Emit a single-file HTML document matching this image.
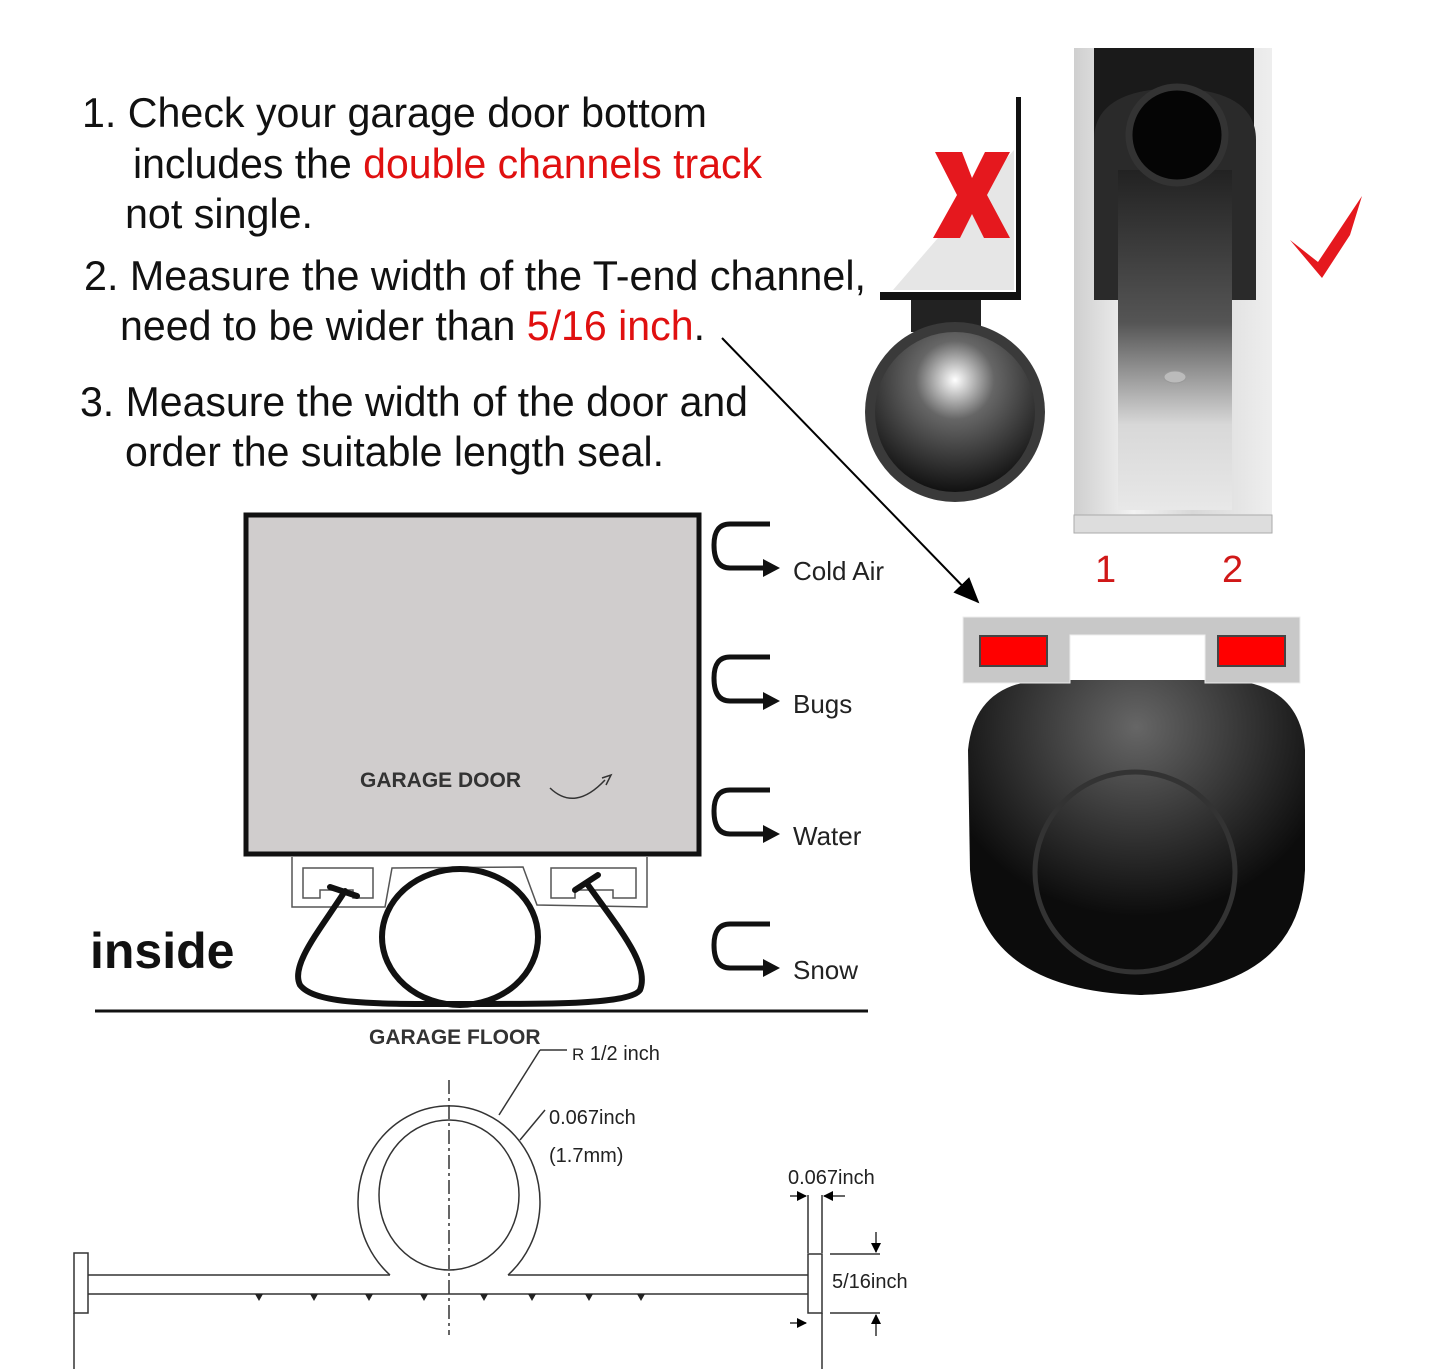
<!DOCTYPE html>
<html><head><style>
html,body{margin:0;padding:0;background:#fff;}
svg{display:block;}
text{font-family:"Liberation Sans",sans-serif;}
</style></head><body>
<svg width="1440" height="1369" viewBox="0 0 1440 1369" xmlns="http://www.w3.org/2000/svg">
<defs>
<linearGradient id="alu" x1="0" x2="1">
<stop offset="0" stop-color="#cfcfcf"/><stop offset="0.3" stop-color="#f2f2f2"/><stop offset="0.6" stop-color="#d8d8d8"/><stop offset="1" stop-color="#eee"/>
</linearGradient>
<linearGradient id="chv" x1="0" y1="0" x2="0" y2="1">
<stop offset="0" stop-color="#222"/><stop offset="0.45" stop-color="#555"/><stop offset="0.75" stop-color="#d8d8d8"/><stop offset="1" stop-color="#e8e8e8"/>
</linearGradient>
<radialGradient id="tube" cx="0.5" cy="0.3" r="0.7">
<stop offset="0" stop-color="#fff"/><stop offset="0.35" stop-color="#666"/><stop offset="1" stop-color="#111"/>
</radialGradient>
<radialGradient id="bulb" cx="0.5" cy="0.15" r="0.6">
<stop offset="0" stop-color="#666"/><stop offset="1" stop-color="#0c0c0c"/>
</radialGradient>
<marker id="ah" markerWidth="10" markerHeight="10" refX="9" refY="5" orient="auto" markerUnits="userSpaceOnUse">
<path d="M0,0 L10,5 L0,10 z" fill="#000"/></marker>
<marker id="ah2" markerWidth="26" markerHeight="22" refX="24" refY="11" orient="auto" markerUnits="userSpaceOnUse">
<path d="M0,0 L26,11 L0,22 z" fill="#000"/></marker>
</defs>

<g font-size="42" fill="#111">
<text x="82" y="127" textLength="625" lengthAdjust="spacingAndGlyphs">1.  Check your garage door bottom</text>
<text x="133" y="178" textLength="629" lengthAdjust="spacingAndGlyphs">includes the <tspan fill="#e01010">double channels track</tspan></text>
<text x="125" y="228" textLength="188" lengthAdjust="spacingAndGlyphs">not single.</text>
<text x="84" y="290" textLength="782" lengthAdjust="spacingAndGlyphs">2. Measure the width of the  T-end channel,</text>
<text x="120" y="340" textLength="585" lengthAdjust="spacingAndGlyphs">need to be wider than <tspan fill="#e01010">5/16 inch</tspan>.</text>
<text x="80" y="416" textLength="668" lengthAdjust="spacingAndGlyphs">3. Measure the width of the door and</text>
<text x="125" y="466" textLength="539" lengthAdjust="spacingAndGlyphs">order the suitable length seal.</text>
</g>

<line x1="722" y1="338" x2="978" y2="602" stroke="#000" stroke-width="2" marker-end="url(#ah2)"/>

<rect x="246" y="515" width="453" height="339" fill="#d0cdcd" stroke="#111" stroke-width="5"/>
<text x="360" y="787" font-size="21" font-weight="bold" fill="#333">GARAGE DOOR</text>
<path d="M550,788 Q575,812 605,780" fill="none" stroke="#333" stroke-width="1.5"/>
<path d="M602,778 L611,775 L606,785" fill="none" stroke="#333" stroke-width="1.5"/>

<g fill="none" stroke="#555" stroke-width="1.5">
<path d="M292,857 L292,907 L385,907 L392,868 L523,867 L537,905 L647,907 L647,857"/>
<path d="M303,868 L373,868 L373,898 L353,898 L353,890 L320,890 L320,898 L303,898 Z"/>
<path d="M551,868 L636,868 L636,898 L613,898 L613,890 L575,890 L575,898 L551,898 Z"/>
</g>
<g fill="none" stroke="#111" stroke-width="6" stroke-linecap="round">
<ellipse cx="460" cy="937" rx="78" ry="68"/>
<path d="M330,887 L357,896"/>
<path d="M345,891 C320,930 290,965 300,985 C315,1005 380,1004 460,1004 C540,1004 630,1005 640,990 C650,965 620,930 588,885"/>
<path d="M575,890 L598,875"/>
</g>

<text x="90" y="968" font-size="50" font-weight="bold" fill="#111">inside</text>
<line x1="95" y1="1011" x2="868" y2="1011" stroke="#111" stroke-width="3"/>
<text x="369" y="1044" font-size="21" font-weight="bold" fill="#333">GARAGE FLOOR</text>

<g fill="none" stroke="#111" stroke-width="5">
<path d="M770,524 L730,524 Q714,524 714,545 Q714,568 730,568 L765,568"/>
<path d="M770,657 L730,657 Q714,657 714,678 Q714,701 730,701 L765,701"/>
<path d="M770,790 L730,790 Q714,790 714,811 Q714,834 730,834 L765,834"/>
<path d="M770,924 L730,924 Q714,924 714,945 Q714,968 730,968 L765,968"/>
</g>
<g fill="#111">
<path d="M763,559 L780,568 L763,577Z"/><path d="M763,692 L780,701 L763,710Z"/>
<path d="M763,825 L780,834 L763,843Z"/><path d="M763,959 L780,968 L763,977Z"/>
</g>
<g font-size="26" fill="#222">
<text x="793" y="580">Cold Air</text><text x="793" y="713">Bugs</text>
<text x="793" y="845">Water</text><text x="793" y="979">Snow</text>
</g>

<path d="M1016,97 L1021,97 L1021,300 L880,300 L880,292 L1016,292 Z" fill="#111"/>
<path d="M893,290 L1014,290 L1014,150 Z" fill="#e6e6e6"/>
<rect x="911" y="300" width="70" height="32" fill="#222"/>
<circle cx="955" cy="412" r="90" fill="#3a3a3a"/>
<circle cx="955" cy="412" r="80" fill="url(#tube)"/>
<path d="M935,152 L962,152 L972,178 L985,152 L1010,152 L987,195 L1010,238 L984,238 L972,214 L960,238 L933,238 L957,195 Z" fill="#e5181e"/>

<rect x="1074" y="48" width="198" height="485" fill="url(#alu)"/>
<rect x="1094" y="48" width="160" height="200" fill="#1a1a1a"/>
<path d="M1094,140 Q1094,90 1175,88 Q1256,90 1256,140 L1256,300 L1232,300 L1232,180 L1118,180 L1118,300 L1094,300 Z" fill="#2a2a2a"/>
<rect x="1118" y="170" width="114" height="340" fill="url(#chv)"/>
<circle cx="1177" cy="135" r="48" fill="#050505" stroke="#333" stroke-width="7"/>
<ellipse cx="1175" cy="377" rx="11" ry="6" fill="#bbb" stroke="#999"/>
<path d="M1074,515 L1272,515 L1272,533 L1074,533 Z" fill="#ddd" stroke="#aaa"/>
<path d="M1290,240 L1318,262 L1362,196 L1350,235 L1322,278 Z" fill="#e5181e"/>
<text x="1095" y="582" font-size="38" fill="#d01818">1</text>
<text x="1222" y="582" font-size="38" fill="#d01818">2</text>

<path d="M968,750 Q975,680 1050,680 L1220,680 Q1300,680 1305,750 L1305,870 Q1300,990 1140,995 Q980,990 970,870 Z" fill="url(#bulb)"/>
<circle cx="1135" cy="872" r="100" fill="none" stroke="#333" stroke-width="5"/>
<path d="M963,617 L1300,617 L1300,683 L1205,683 L1205,635 L1070,635 L1070,683 L963,683 Z" fill="#c8c8c8" stroke="#eee"/>
<rect x="980" y="636" width="67" height="30" fill="#f00" stroke="#444" stroke-width="2"/>
<rect x="1218" y="636" width="67" height="30" fill="#f00" stroke="#444" stroke-width="2"/>

<g fill="none" stroke="#333" stroke-width="1.5">
<path d="M390,1275 A91,96 0 1 1 508,1275"/>
<ellipse cx="449" cy="1195" rx="70" ry="75"/>
<path d="M88,1275 L390,1275"/>
<path d="M508,1275 L808,1275"/>
<path d="M88,1294 L808,1294"/>
<rect x="74" y="1253" width="14" height="60"/>
<rect x="808" y="1254" width="14" height="59"/>
<line x1="74" y1="1313" x2="74" y2="1369"/>
<line x1="822" y1="1313" x2="822" y2="1369"/>
<line x1="449" y1="1080" x2="449" y2="1335" stroke-dasharray="14,4,3,4"/>
<line x1="499" y1="1115" x2="540" y2="1050"/><line x1="540" y1="1050" x2="567" y2="1050"/>
<line x1="520" y1="1140" x2="545" y2="1110"/>
<line x1="808" y1="1195" x2="808" y2="1253"/><line x1="822" y1="1195" x2="822" y2="1253"/>
<line x1="790" y1="1196" x2="806" y2="1196" marker-end="url(#ah)"/>
<line x1="845" y1="1196" x2="824" y2="1196" marker-end="url(#ah)"/>
<line x1="830" y1="1254" x2="880" y2="1254"/><line x1="830" y1="1313" x2="880" y2="1313"/>
<line x1="876" y1="1232" x2="876" y2="1252" marker-end="url(#ah)"/>
<line x1="876" y1="1336" x2="876" y2="1315" marker-end="url(#ah)"/>
<line x1="790" y1="1323" x2="806" y2="1323" marker-end="url(#ah)"/>
</g>
<g fill="#222" stroke="none">
<path d="M255,1294 l4,7 l4,-7Z M310,1294 l4,7 l4,-7Z M365,1294 l4,7 l4,-7Z M420,1294 l4,7 l4,-7Z M480,1294 l4,7 l4,-7Z M528,1294 l4,7 l4,-7Z M585,1294 l4,7 l4,-7Z M637,1294 l4,7 l4,-7Z"/>
</g>
<g font-size="20" fill="#222">
<text x="572" y="1060"><tspan font-size="17">R</tspan>  1/2 inch</text>
<text x="549" y="1124">0.067inch</text>
<text x="549" y="1162">(1.7mm)</text>
<text x="788" y="1184">0.067inch</text>
<text x="832" y="1288">5/16inch</text>
</g>
</svg>
</body></html>
